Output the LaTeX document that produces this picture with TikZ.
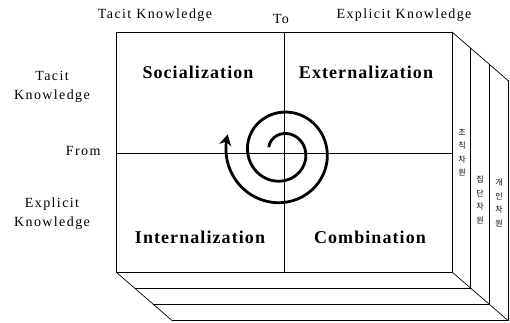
\documentclass[tikz,border=0pt]{standalone}
\usepackage{fontspec}
\setmainfont{Liberation Serif}
\newfontfamily\axisfont[LetterSpace=10]{Liberation Serif}
\newfontfamily\quadfont[LetterSpace=6]{Liberation Serif}
\newfontfamily\cjk{Noto Sans CJK KR}
\usetikzlibrary{arrows.meta}

\tikzstyle{quadlabel} = [font=\quadfont\bfseries\fontsize{18}{20}\selectfont]
\tikzstyle{axislabel} = [font=\axisfont\fontsize{14}{19}\selectfont, align=center]
\tikzstyle{levellabel} = [font=\cjk\fontsize{8}{13.5}\selectfont, align=center, inner sep=0pt]
\tikzstyle{frameline} = [line width=0.7pt, black]

\begin{document}
\begin{tikzpicture}[x=1pt,y=-1pt]
\useasboundingbox (0,0) rectangle (510,323);

% front face
\coordinate (tl) at (116,32);
\coordinate (tr) at (452,32);
\coordinate (bl) at (116,272);
\coordinate (br) at (452,272);
\coordinate (tm) at (284,32);
\coordinate (bm) at (284,272);
\coordinate (lm) at (116,153);
\coordinate (rm) at (452,153);

% layers behind
\coordinate (tr1) at (470.7,48.2);
\coordinate (tr2) at (489.3,64.3);
\coordinate (tr3) at (508,80.5);
\coordinate (br1) at (470.7,288.2);
\coordinate (br2) at (489.3,304.3);
\coordinate (br3) at (508,320.5);
\coordinate (bl1) at (134.7,288.2);
\coordinate (bl2) at (153.3,304.3);
\coordinate (bl3) at (172,320.5);

\draw[frameline] (tl) rectangle (br);
\draw[frameline] (tm) -- (bm);
\draw[frameline] (lm) -- (rm);

\draw[frameline] (tr) -- (tr3);
\draw[frameline] (bl) -- (bl3);
\draw[frameline] (br) -- (br3);
\draw[frameline] (tr1) -- (br1);
\draw[frameline] (tr2) -- (br2);
\draw[frameline] (tr3) -- (br3);
\draw[frameline] (bl1) -- (br1);
\draw[frameline] (bl2) -- (br2);
\draw[frameline] (bl3) -- (br3);

% axis labels
\node[axislabel] (totacit) at (155,15) {Tacit Knowledge};
\node[axislabel] (to) at (281,19) {To};
\node[axislabel] (toexplicit) at (404,15) {Explicit Knowledge};
\node[axislabel] (fromtacit) at (52,87) {Tacit\\Knowledge};
\node[axislabel, anchor=east] (from) at (104,151) {From};
\node[axislabel] (fromexplicit) at (52,214) {Explicit\\Knowledge};

% quadrants
\node[quadlabel] (soc) at (198,72) {Socialization};
\node[quadlabel] (ext) at (366,72) {Externalization};
\node[quadlabel] (int) at (200,237) {Internalization};
\node[quadlabel] (com) at (370,237) {Combination};

% levels
\node[levellabel] (org) at (462,153) {조\\직\\차\\원};
\node[levellabel] (grp) at (480,200) {집\\단\\차\\원};
\node[levellabel] (ind) at (499,203) {개\\인\\차\\원};

% spiral
\draw[line width=2.8pt, -{Stealth[length=11pt,width=12pt]}] plot[domain=200:918, samples=150, smooth]
  ({282+(14+0.06*(\x-200))*cos(\x)}, {152+(14+0.06*(\x-200))*sin(\x)});
\end{tikzpicture}
\end{document}
